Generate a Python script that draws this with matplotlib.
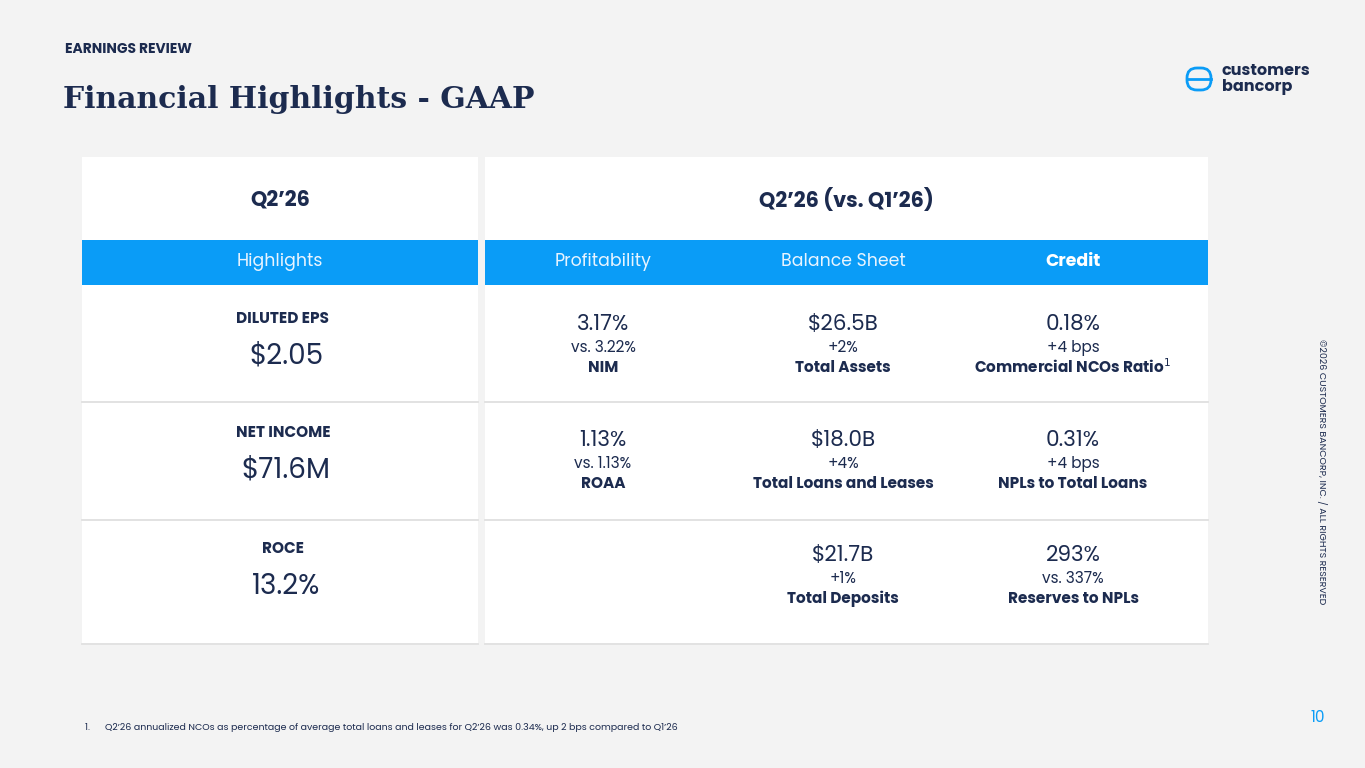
import matplotlib.pyplot as plt
from matplotlib.patches import Rectangle, FancyBboxPatch

NAVY = '#1c2b4f'
BLUE = '#0a9cf7'
plt.rcParams['font.family'] = ['Poppins', 'Lato', 'DejaVu Sans']

# slide content
left_heads = ['Highlights']
left_labels = ['DILUTED EPS', 'NET INCOME', 'ROCE']
left_values = ['$2.05', '$71.6M', '13.2%']
right_heads = ['Profitability', 'Balance Sheet', 'Credit']
right_cells = [
    [('3.17%', 'vs. 3.22%', 'NIM'), ('$26.5B', '+2%', 'Total Assets'),
     ('0.18%', '+4 bps', 'Commercial NCOs Ratio$^1$')],
    [('1.13%', 'vs. 1.13%', 'ROAA'), ('$18.0B', '+4%', 'Total Loans and Leases'),
     ('0.31%', '+4 bps', 'NPLs to Total Loans')],
    [None, ('$21.7B', '+1%', 'Total Deposits'),
     ('293%', 'vs. 337%', 'Reserves to NPLs')],
]

fig = plt.figure(figsize=(13.65, 7.68), dpi=100)
fig.patch.set_facecolor('#f3f3f3')
ax = fig.add_axes([0, 0, 1, 1])
ax.set_xlim(0, 1365)
ax.set_ylim(768, 0)
ax.axis('off')

ax.text(65, 50, 'EARNINGS REVIEW', fontsize=10, fontweight='bold', color=NAVY, va='center')
ax.text(63, 99, 'Financial Highlights - GAAP', fontsize=21.5, fontweight='bold', color=NAVY,
        va='center', family=['DejaVu Serif'])

# logo
ax.add_patch(FancyBboxPatch((1187, 68), 24, 22, boxstyle='round,pad=0,rounding_size=10',
                            fill=False, ec=BLUE, lw=2))
ax.plot([1187, 1211], [79, 79], color=BLUE, lw=2)
ax.text(1222, 79, 'customers\nbancorp', fontsize=11.5, fontweight='bold', color=NAVY,
        va='center', linespacing=0.95)

# panels
for x0, x1 in [(82, 478), (485, 1208)]:
    ax.add_patch(Rectangle((x0, 157), x1 - x0, 488, fc='white', ec='none'))
    ax.add_patch(Rectangle((x0, 240), x1 - x0, 45, fc=BLUE, ec='none'))
    for y in [402, 520, 644]:
        ax.plot([x0, x1], [y, y], color='#dddddd', lw=1.2)

ax.text(280, 201, "Q2\u201926", fontsize=15, fontweight='bold', color=NAVY, ha='center', va='center')
ax.text(846, 201, "Q2\u201926 (vs. Q1\u201926)", fontsize=15, fontweight='bold', color=NAVY,
        ha='center', va='center')
ax.text(280, 262, left_heads[0], fontsize=12.5, color='#e8f4ff', ha='center', va='center')
col_x = [603, 843, 1073]
for i, h in enumerate(right_heads):
    ax.text(col_x[i], 262, h, fontsize=12.5, color='white' if i == 2 else '#e8f4ff',
            fontweight='bold' if i == 2 else 'normal', ha='center', va='center')

row_y = [319, 433, 549]
for i, (lab, val) in enumerate(zip(left_labels, left_values)):
    ax.text(283, row_y[i], lab, fontsize=11, fontweight='bold', color=NAVY, ha='center', va='center')
    ax.text(286, row_y[i] + 38, val, fontsize=20, color=NAVY, ha='center', va='center')

row_top = [325, 441, 556]
for r, row in enumerate(right_cells):
    for c, cell in enumerate(row):
        if cell is None:
            continue
        y = row_top[r]
        ax.text(col_x[c], y, cell[0], fontsize=15.5, color=NAVY, ha='center', va='center')
        ax.text(col_x[c], y + 23, cell[1], fontsize=11, color=NAVY, ha='center', va='center')
        ax.text(col_x[c], y + 43, cell[2], fontsize=11, fontweight='bold', color=NAVY,
                ha='center', va='center')

ax.text(1322, 472, '\u00a92026 CUSTOMERS BANCORP, INC. / ALL RIGHTS RESERVED', fontsize=6.8,
        color=NAVY, rotation=-90, ha='center', va='center')
ax.text(1318, 718, '10', fontsize=11, color=BLUE, ha='center', va='center')
ax.text(85, 727, '1.      Q2\u201926 annualized NCOs as percentage of average total loans and leases '
        'for Q2\u201926 was 0.34%, up 2 bps compared to Q1\u201926', fontsize=6.8, color=NAVY, va='center')

fig.savefig('out.png', dpi=100, facecolor=fig.get_facecolor())
